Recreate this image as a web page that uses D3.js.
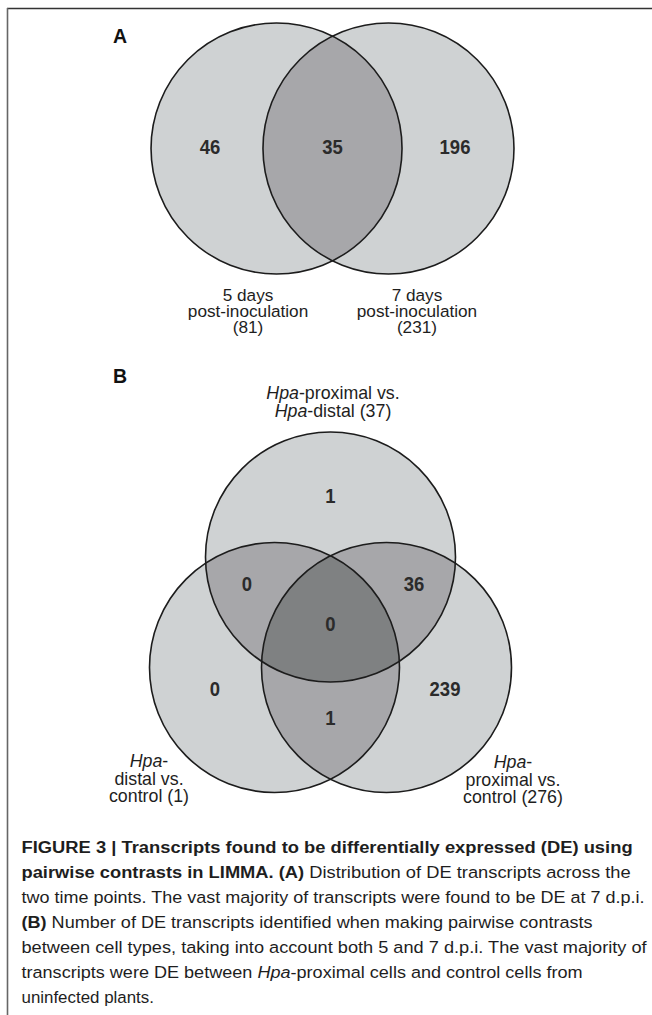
<!DOCTYPE html>
<html><head><meta charset="utf-8">
<script src="https://cdn.jsdelivr.net/npm/d3@7/dist/d3.min.js"></script>
<style>body{margin:0;background:#fff}svg{display:block}</style>
</head><body>
<svg id="chart" width="652" height="1015"></svg>
<script>
// ---------- DATA ----------
const panelA_setLabels = [["5 days","post-inoculation","(81)"],["7 days","post-inoculation","(231)"]];
const panelA_regionKeys = ["0","01","1"];
const panelA_regionCounts = [46, 35, 196];

const panelB_setLabels = [
  ["*Hpa*-proximal vs.","*Hpa*-distal (37)"],
  ["*Hpa*-","distal vs.","control (1)"],
  ["*Hpa*-","proximal vs.","control (276)"]
];
const panelB_regionKeys = ["0","01","02","012","1","2","12"];
const panelB_regionCounts = [1, 0, 36, 0, 0, 239, 1];

const captionLines = [
  "**FIGURE 3 | Transcripts found to be differentially expressed (DE) using**",
  "**pairwise contrasts in LIMMA. (A)** Distribution of DE transcripts across the",
  "two time points. The vast majority of transcripts were found to be DE at 7 d.p.i.",
  "**(B)** Number of DE transcripts identified when making pairwise contrasts",
  "between cell types, taking into account both 5 and 7 d.p.i. The vast majority of",
  "transcripts were DE between *Hpa*-proximal cells and control cells from",
  "uninfected plants."
];

// ---------- LAYOUT (unit coordinates, radius = 1) ----------
const layoutA = {cx:332.5, cy:148.5, r:125.5,
  centers:[[-0.446,0],[0.446,0]],
  regionPos:{"0":[-0.976,-0.02],"01":[0,-0.02],"1":[0.976,-0.02]},
  labelPos:[[-0.673,1.215],[0.673,1.215]], lineH:16.2, labelFont:17.2};
const layoutB = {cx:330.5, cy:630, r:125,
  centers:[[0,-0.584],[-0.448,0.3],[0.448,0.3]],
  regionPos:{"0":[0,-1.08],"01":[-0.668,-0.376],"02":[0.668,-0.376],"012":[0,-0.056],
             "1":[-0.924,0.464],"2":[0.916,0.464],"12":[0,0.696]},
  labelPos:[[0.02,-1.848],[-1.452,1.096],[1.46,1.104]], lineH:17.5, labelFont:17.8};

const fills = ["#cfd2d3","#a7a7aa","#7f8182"];
const FONT = "'Liberation Sans',Arial,Helvetica,sans-serif";
const svg = d3.select("#chart");
svg.append("rect").attr("width",652).attr("height",1015).attr("fill","#fff");
const defs = svg.append("defs");

// frame
svg.append("line").attr("x1",7).attr("x2",652).attr("y1",8.5).attr("y2",8.5).attr("stroke","#333").attr("stroke-width",1.6);
svg.append("line").attr("x1",7.5).attr("x2",7.5).attr("y1",8).attr("y2",1015).attr("stroke","#666").attr("stroke-width",1.6);

function addRich(textSel, str){
  const re = /(\*\*[^*]+\*\*|\*[^*]+\*)/g;
  str.split(re).filter(s=>s.length).forEach(s=>{
    const t = textSel.append("tspan");
    if (s.startsWith("**")) t.attr("font-weight","bold").text(s.slice(2,-2));
    else if (s.startsWith("*")) t.attr("font-style","italic").text(s.slice(1,-1));
    else t.text(s);
  });
}

function drawVenn(id, layout, setLabels, regionKeys, counts){
  const x = d3.scaleLinear().domain([-1,1]).range([layout.cx-layout.r, layout.cx+layout.r]);
  const y = d3.scaleLinear().domain([-1,1]).range([layout.cy-layout.r, layout.cy+layout.r]);
  const rad = d3.scaleLinear().domain([0,1]).range([0,layout.r]);
  const g = svg.append("g");
  const n = layout.centers.length;
  layout.centers.forEach((c,i)=>{
    defs.append("clipPath").attr("id",`${id}c${i}`).append("circle")
      .attr("cx",x(c[0])).attr("cy",y(c[1])).attr("r",rad(1));
  });
  const circ = (sel,c)=>sel.append("circle").attr("cx",x(c[0])).attr("cy",y(c[1])).attr("r",rad(1));
  layout.centers.forEach(c=>circ(g,c).attr("fill",fills[0]));
  for(let i=0;i<n;i++) for(let j=i+1;j<n;j++){
    const gg = g.append("g").attr("clip-path",`url(#${id}c${i})`);
    circ(gg,layout.centers[j]).attr("fill",fills[1]);
  }
  if(n===3){
    const g1 = g.append("g").attr("clip-path",`url(#${id}c0)`);
    const g2 = g1.append("g").attr("clip-path",`url(#${id}c1)`);
    circ(g2,layout.centers[2]).attr("fill",fills[2]);
  }
  layout.centers.forEach(c=>circ(g,c).attr("fill","none").attr("stroke","#1c1c1c").attr("stroke-width",1.6));
  // counts (condensed bold)
  regionKeys.forEach((k,i)=>{
    const p = layout.regionPos[k];
    g.append("g").attr("transform",`translate(${x(p[0])},${y(p[1])}) scale(0.88,1)`)
      .append("text").attr("dy","0.36em")
      .attr("text-anchor","middle").attr("font-family",FONT)
      .attr("font-weight","bold").attr("font-size",21).attr("fill","#2b2b2b")
      .text(counts[i]);
  });
  // set labels
  setLabels.forEach((lines,i)=>{
    const p = layout.labelPos[i];
    lines.forEach((ln,j)=>{
      const t = g.append("text").attr("x",x(p[0])).attr("y",y(p[1])+j*layout.lineH)
        .attr("text-anchor","middle").attr("font-family",FONT)
        .attr("font-size",layout.labelFont).attr("fill","#1e1e1e");
      addRich(t, ln);
    });
  });
}

drawVenn("A", layoutA, panelA_setLabels, panelA_regionKeys, panelA_regionCounts);
drawVenn("B", layoutB, panelB_setLabels, panelB_regionKeys, panelB_regionCounts);

// panel letters
[["A",43],["B",383]].forEach(([l,yy])=>{
  svg.append("text").attr("x",113).attr("y",yy).attr("font-family",FONT)
    .attr("font-weight","bold").attr("font-size",19.5).attr("fill","#111").text(l);
});

// caption
const capRight = [633,631,645,593,647,583,154];
captionLines.forEach((ln,i)=>{
  const t = svg.append("text").attr("x",0).attr("y",0)
    .attr("font-family",FONT).attr("font-size",17).attr("fill","#1e1e1e");
  addRich(t, ln);
  const w = t.node().getComputedTextLength();
  const s = (capRight[i]-21.5) / w;
  t.attr("transform",`translate(21.5,${853+i*25}) scale(${s},1)`);
});
</script>
</body></html>
